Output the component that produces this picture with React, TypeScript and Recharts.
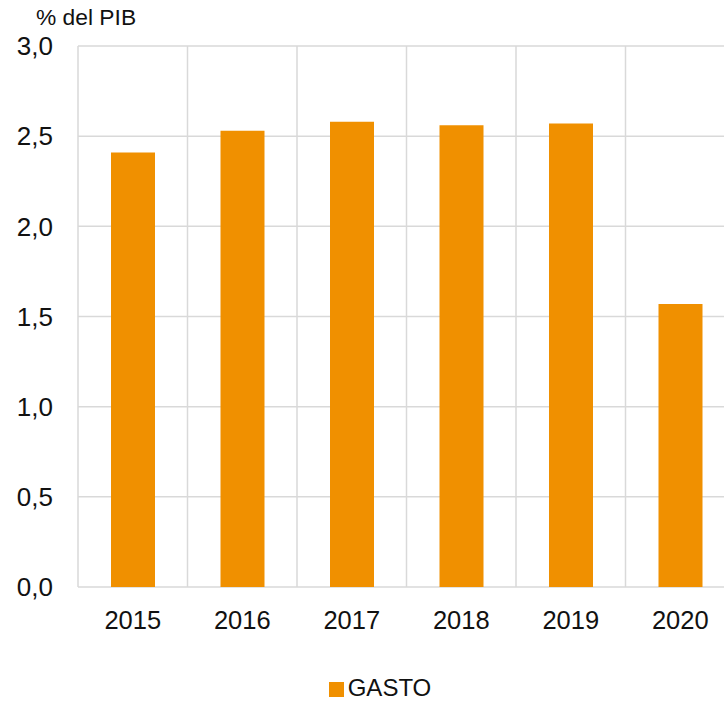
import { BarChart, Bar, XAxis, YAxis, CartesianGrid, Legend } from "recharts";

const years = ["2015", "2016", "2017", "2018", "2019", "2020"];
const gasto = [2.41, 2.53, 2.58, 2.56, 2.57, 1.57];
const yTicks = [0, 0.5, 1, 1.5, 2, 2.5, 3];

const data = years.map((year, i) => ({ year, gasto: gasto[i] }));

const FONT = '"Liberation Sans", Arial, Helvetica, sans-serif';
const ORANGE = "#f09000";
const GRID = "#d9d9d9";

export default function App() {
    return (
        <div
            style={{
                position: "absolute",
                left: 0,
                top: 0,
                width: 724,
                height: 702,
                overflow: "hidden",
                background: "#fff",
                fontFamily: FONT,
            }}
        >
            {/* axis title */}
            <div style={{ position: "absolute", left: 36, top: 4, fontSize: 22.8, color: "#111" }}>% del PIB</div>
            <BarChart
                width={740}
                height={702}
                data={data}
                margin={{ top: 46, right: 5, bottom: 0, left: 0 }}
            >
                <CartesianGrid
                    stroke={GRID}
                    strokeWidth={1.5}
                    verticalCoordinatesGenerator={({ offset }: any) =>
                        [...years, ""].map((_, i) => offset.left + (i * offset.width) / years.length)
                    }
                />
                <XAxis
                    dataKey="year"
                    axisLine={false}
                    tickLine={false}
                    tickSize={0}
                    tickMargin={24}
                    height={87}
                    tick={{ fill: "#111", fontSize: 25.5, fontFamily: FONT }}
                />
                <YAxis
                    domain={[0, 3]}
                    ticks={yTicks}
                    axisLine={false}
                    tickLine={false}
                    tickSize={0}
                    tickMargin={25}
                    width={78}
                    tick={{ fill: "#111", fontSize: 26, fontFamily: FONT }}
                    tickFormatter={(v: number) => v.toFixed(1).replace(".", ",")}
                />
                <Legend
                    verticalAlign="bottom"
                    iconType="square"
                    iconSize={15}
                    wrapperStyle={{ left: 295, width: 180, bottom: 0, fontSize: 24, fontFamily: FONT, textAlign: "left" }}
                    formatter={(value: string) => <span style={{ color: "#111" }}>{value}</span>}
                />
                <Bar dataKey="gasto" name="GASTO" fill={ORANGE} barSize={44} isAnimationActive={false} />
            </BarChart>
        </div>
    );
}
